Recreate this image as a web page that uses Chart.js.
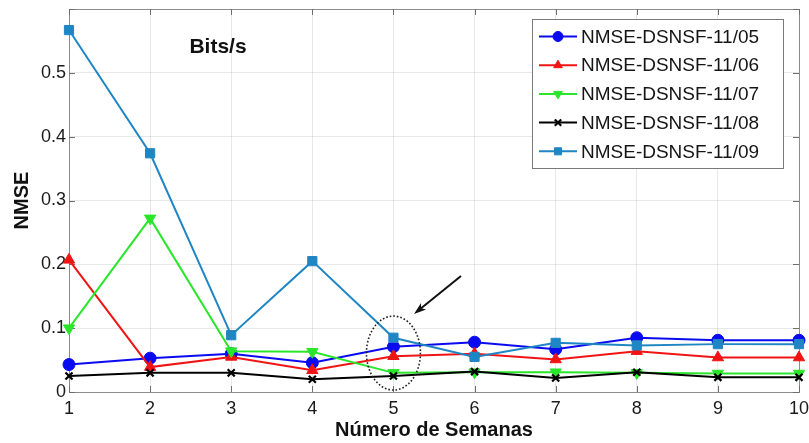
<!DOCTYPE html>
<html>
<head>
<meta charset="utf-8">
<script src="https://cdn.jsdelivr.net/npm/chart.js@4/dist/chart.umd.min.js"></script>
<style>
  html, body { margin: 0; padding: 0; background: #ffffff; }
  canvas { display: block; }
</style>
</head>
<body>
<canvas id="c" width="809" height="443"></canvas>
<script>
// Weeks on the x axis
const semanas = ['1', '2', '3', '4', '5', '6', '7', '8', '9', '10'];

// NMSE per DSNSF day
const nmse1105 = [0.043, 0.053, 0.060, 0.046, 0.071, 0.078, 0.067, 0.085, 0.081, 0.081];
const nmse1106 = [0.207, 0.039, 0.055, 0.034, 0.056, 0.060, 0.051, 0.064, 0.054, 0.054];
const nmse1107 = [0.100, 0.272, 0.064, 0.063, 0.030, 0.031, 0.031, 0.030, 0.029, 0.029];
const nmse1108 = [0.025, 0.030, 0.030, 0.020, 0.025, 0.032, 0.022, 0.031, 0.023, 0.023];
const nmse1109 = [0.567, 0.374, 0.089, 0.205, 0.085, 0.055, 0.077, 0.073, 0.075, 0.075];

const seriesNames = ['NMSE-DSNSF-11/05', 'NMSE-DSNSF-11/06', 'NMSE-DSNSF-11/07', 'NMSE-DSNSF-11/08', 'NMSE-DSNSF-11/09'];
const seriesValues = [nmse1105, nmse1106, nmse1107, nmse1108, nmse1109];
const seriesColors = ['#0a0af0', '#f01414', '#2ae62a', '#000000', '#1f86c4'];
const seriesMarkers = ['circle', 'triangle', 'triangle', 'crossRot', 'rect'];
const seriesRotation = [0, 0, 180, 0, 0];
const seriesRadius = [6, 6.5, 6.5, 5, 6.5];

const FONT = '"Liberation Sans", Arial, Helvetica, sans-serif';

const datasets = seriesValues.map((vals, i) => ({
  label: seriesNames[i],
  data: vals,
  borderColor: seriesColors[i],
  backgroundColor: seriesColors[i],
  pointBackgroundColor: seriesColors[i],
  pointBorderColor: seriesColors[i],
  pointStyle: seriesMarkers[i],
  pointRotation: seriesRotation[i],
  pointRadius: seriesRadius[i],
  pointBorderWidth: seriesMarkers[i] === 'crossRot' ? 2.2 : 1,
  borderWidth: 2,
  tension: 0,
  fill: false,
  clip: false,
  order: seriesValues.length - i
}));

// Box frame with inward tick marks on all four sides
const framePlugin = {
  id: 'frame',
  beforeDatasetsDraw(chart) {
    const { ctx, chartArea: a, scales } = chart;
    ctx.save();
    ctx.strokeStyle = '#8c8c8c';
    ctx.lineWidth = 1;
    ctx.strokeRect(a.left + 0.5, a.top + 0.5, a.right - a.left, a.bottom - a.top);
    ctx.strokeStyle = '#6e6e6e';
    ctx.beginPath();
    const tl = 6;
    scales.x.ticks.forEach((t, i) => {
      const px = Math.round(scales.x.getPixelForTick(i)) + 0.5;
      ctx.moveTo(px, a.bottom); ctx.lineTo(px, a.bottom - tl);
      ctx.moveTo(px, a.top); ctx.lineTo(px, a.top + tl);
    });
    scales.y.ticks.forEach((t, i) => {
      const py = Math.round(scales.y.getPixelForTick(i)) + 0.5;
      ctx.moveTo(a.left, py); ctx.lineTo(a.left + tl, py);
      ctx.moveTo(a.right, py); ctx.lineTo(a.right - tl, py);
    });
    ctx.stroke();
    ctx.restore();
  }
};

// Legend box, plot caption and the highlighted week-5 region
const overlayPlugin = {
  id: 'overlay',
  afterDraw(chart) {
    const { ctx, scales } = chart;
    const xs = scales.x, ys = scales.y;
    ctx.save();

    // caption
    ctx.fillStyle = '#111';
    ctx.font = 'bold 21px ' + FONT;
    ctx.textAlign = 'center';
    ctx.textBaseline = 'middle';
    ctx.fillText('Bits/s', 218, 47);

    // dotted ellipse around week 5
    const cx = xs.getPixelForValue(4);
    const cy = ys.getPixelForValue(0.061);
    ctx.strokeStyle = '#222';
    ctx.lineWidth = 1.6;
    ctx.setLineDash([1.6, 2]);
    ctx.beginPath();
    ctx.ellipse(cx, cy, 27, 37, 0, 0, Math.PI * 2);
    ctx.stroke();
    ctx.setLineDash([]);

    // arrow pointing at the ellipse
    const x0 = 461, y0 = 276, x1 = 414, y1 = 314;
    ctx.strokeStyle = '#111';
    ctx.fillStyle = '#111';
    ctx.lineWidth = 2;
    ctx.beginPath();
    ctx.moveTo(x0, y0); ctx.lineTo(x1 + 4, y1 - 3.2);
    ctx.stroke();
    const ang = Math.atan2(y1 - y0, x1 - x0);
    const hl = 13, hw = 0.32;
    ctx.beginPath();
    ctx.moveTo(x1, y1);
    ctx.lineTo(x1 - hl * Math.cos(ang - hw), y1 - hl * Math.sin(ang - hw));
    ctx.lineTo(x1 - hl * 0.7 * Math.cos(ang), y1 - hl * 0.7 * Math.sin(ang));
    ctx.lineTo(x1 - hl * Math.cos(ang + hw), y1 - hl * Math.sin(ang + hw));
    ctx.closePath();
    ctx.fill();

    // legend
    const bx = 532.5, by = 19.5, bw = 251, bh = 149;
    ctx.fillStyle = '#ffffff';
    ctx.fillRect(bx, by, bw, bh);
    ctx.strokeStyle = '#7a7a7a';
    ctx.lineWidth = 1;
    ctx.strokeRect(bx, by, bw, bh);
    ctx.font = '19px ' + FONT;
    ctx.textAlign = 'left';
    ctx.textBaseline = 'middle';
    chart.data.datasets.forEach((ds, i) => {
      const y = 36.5 + i * 28.7;
      ctx.strokeStyle = ds.borderColor;
      ctx.lineWidth = 2;
      ctx.beginPath();
      ctx.moveTo(539, y); ctx.lineTo(577, y);
      ctx.stroke();
      ctx.fillStyle = ds.pointBackgroundColor;
      ctx.strokeStyle = ds.pointBorderColor;
      ctx.lineWidth = ds.pointBorderWidth;
      Chart.helpers.drawPoint(ctx, {
        pointStyle: ds.pointStyle,
        rotation: ds.pointRotation,
        radius: ds.pointStyle === 'crossRot' ? 4.5 : 5,
        borderWidth: ds.pointBorderWidth
      }, 558, y);
      ctx.fillStyle = '#151515';
      ctx.fillText(ds.label, 581, y + 1);
    });
    ctx.restore();
  }
};

new Chart(document.getElementById('c'), {
  type: 'line',
  data: { labels: semanas, datasets },
  plugins: [framePlugin, overlayPlugin],
  options: {
    responsive: false,
    animation: false,
    devicePixelRatio: 1,
    layout: { padding: { top: 9, right: 10, left: 0, bottom: 0 } },
    plugins: { legend: { display: false }, tooltip: { enabled: false } },
    scales: {
      x: {
        type: 'category',
        offset: false,
        grid: { color: 'rgba(0,0,0,0.09)', drawTicks: false, offset: false },
        border: { display: false },
        ticks: { color: '#1a1a1a', padding: 6, font: { family: FONT, size: 18 }, maxRotation: 0, autoSkip: false },
        title: { display: true, text: 'Número de Semanas', color: '#111', font: { family: FONT, size: 20, weight: 'bold' }, padding: { top: 0, bottom: 1 } },
        afterFit(scale) { scale.height = 51; scale.paddingLeft = 0; scale.paddingRight = 0; }
      },
      y: {
        min: 0,
        max: 0.6,
        grid: { color: 'rgba(0,0,0,0.09)', drawTicks: false },
        border: { display: false },
        ticks: {
          stepSize: 0.1,
          color: '#1a1a1a',
          padding: 3,
          font: { family: FONT, size: 18 },
          callback: (v) => (Math.abs(v - 0.6) < 1e-9 ? '' : (v === 0 ? '0' : v.toFixed(1)))
        },
        title: { display: true, text: 'NMSE', color: '#111', font: { family: FONT, size: 20, weight: 'bold' }, padding: { top: 10, bottom: 0 } },
        afterFit(scale) { scale.width = 69; scale.paddingTop = 0; scale.paddingBottom = 0; }
      }
    }
  }
});
</script>
</body>
</html>
